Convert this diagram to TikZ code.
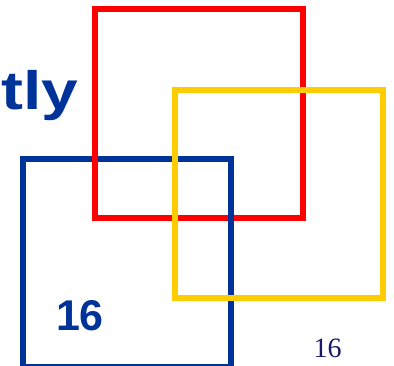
\documentclass[tikz,border=0pt]{standalone}
\usepackage{fontspec}
\setmainfont{Liberation Serif}
\newfontfamily\headfont{Liberation Sans}
\definecolor{ringred}{RGB}{255,0,0}
\definecolor{ringyellow}{RGB}{255,204,0}
\definecolor{ringblue}{RGB}{0,51,153}
\definecolor{pagenum}{RGB}{24,24,110}
\tikzset{
  ring/.style={line width=6pt, miter limit=10},
  bigtext/.style={inner sep=0pt, text=ringblue, font=\headfont\bfseries},
}
\begin{document}
\begin{tikzpicture}[x=1pt, y=-1pt]
\useasboundingbox (0,0) rectangle (394,366);
% Title fragment
\node[bigtext, anchor=base west, xscale=1.22, font=\headfont\bfseries\fontsize{54}{60}\selectfont] (title) at (1,110) {tly};

% Three squares, woven into each other
\draw[ring, ringblue] (23,159) rectangle (231,367);
\draw[ring, ringred] (94.5,9.5) rectangle (303,218);
\draw[ring, ringblue] (231,159) -- (231,367);
\draw[ring, ringyellow] (175,90) rectangle (383,298);

% Numbers
\node[bigtext, anchor=base, font=\headfont\bfseries\fontsize{43}{50}\selectfont] (num) at (80,331) {16};
\node[inner sep=0pt, anchor=base, text=pagenum, font=\fontsize{28}{32}\selectfont] (page) at (327.5,358) {16};
\end{tikzpicture}
\end{document}
